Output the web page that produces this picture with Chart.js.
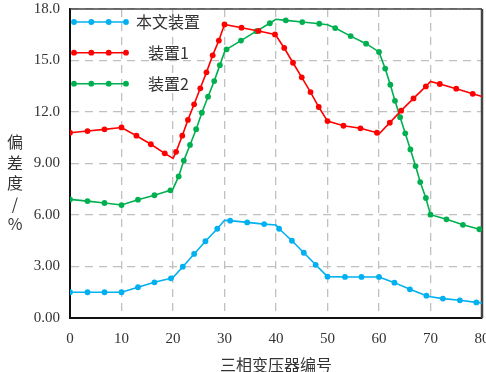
<!DOCTYPE html>
<html>
<head>
<meta charset="utf-8">
<script src="https://cdn.jsdelivr.net/npm/chart.js@4"></script>
<style>
  body { margin: 0; background: #fff; }
  #wrap { position: relative; width: 486px; height: 372px; overflow: hidden; }
  #ytitle {
    position: absolute; left: 5px; top: 131px; width: 20px;
    font: 16px "Noto Sans CJK SC"; line-height: 20.5px; text-align: center; color: #333;
  }
  #xtitle {
    position: absolute; left: 70px; top: 355px; width: 412px;
    font: 16px "Noto Sans CJK SC"; line-height: 18px; text-align: center; color: #333;
  }
</style>
</head>
<body>
<div id="wrap">
  <canvas id="chart" width="486" height="372"></canvas>
  <div id="ytitle">偏<br>差<br>度<br>/<br>%</div>
  <div id="xtitle">三相变压器编号</div>
</div>
<script>
const seriesNames = ["本文装置", "装置1", "装置2"];
const yTickLabels = ["0.00", "3.00", "6.00", "9.00", "12.0", "15.0", "18.0"];

// marker points
const blueX = [0, 3.4, 6.7, 10, 13.2, 16.4, 19.6, 21.9, 24.1, 26.3, 28.6, 31.1, 34.4, 37.7, 40.6, 43.1, 45.4, 47.7, 50, 53.4, 56.6, 60, 63, 66, 69.2, 72.4, 75.7, 78.9];
const blueY = [1.5, 1.5, 1.5, 1.5, 1.79, 2.08, 2.31, 2.99, 3.73, 4.47, 5.2, 5.67, 5.57, 5.47, 5.2, 4.5, 3.8, 3.1, 2.41, 2.39, 2.39, 2.39, 2.06, 1.67, 1.3, 1.13, 1.03, 0.91];
const redX = [0, 3.4, 6.7, 10, 12.9, 15.7, 18.4, 20.6, 21.8, 22.9, 24.1, 25.3, 26.5, 27.7, 28.9, 30, 33.3, 36.6, 39.8, 41.6, 43.3, 45, 46.7, 48.3, 50, 53.1, 56.4, 59.6, 62.1, 64.3, 66.7, 69.1, 71.8, 75, 78.2];
const redY = [10.79, 10.89, 10.99, 11.1, 10.62, 10.12, 9.59, 9.68, 10.62, 11.54, 12.45, 13.38, 14.31, 15.3, 16.16, 17.1, 16.91, 16.72, 16.52, 15.73, 14.87, 14.02, 13.16, 12.29, 11.47, 11.2, 11.05, 10.79, 11.38, 12.08, 12.79, 13.49, 13.63, 13.36, 13.06];
const greenX = [0, 3.4, 6.7, 10, 13.2, 16.4, 19.5, 21.1, 22.1, 23.3, 24.5, 25.6, 26.8, 28, 29.1, 30.4, 33.2, 36.2, 38.8, 41.9, 45.1, 48.4, 51.5, 54.5, 57.5, 60, 61.2, 62.2, 63.1, 64.1, 65.1, 66.1, 67.1, 68, 69.1, 70, 73.1, 76.3, 79.5];
const greenY = [6.91, 6.81, 6.7, 6.58, 6.89, 7.15, 7.44, 8.25, 9.17, 10.08, 11.0, 11.96, 12.89, 13.8, 14.73, 15.65, 16.16, 16.71, 17.17, 17.34, 17.24, 17.14, 16.89, 16.42, 15.98, 15.5, 14.53, 13.59, 12.65, 11.7, 10.76, 9.82, 8.85, 7.92, 6.99, 6.02, 5.75, 5.43, 5.17];

// corners of the polylines that carry no marker
const blueKnotX = [20, 30, 40, 70, 80];
const blueKnotY = [2.36, 5.69, 5.42, 1.24, 0.88];
const redKnotX = [20, 40, 60, 70, 80];
const redKnotY = [9.3, 16.46, 10.72, 13.78, 12.9];
const greenKnotX = [20, 30, 40, 50, 80];
const greenKnotY = [7.52, 15.5, 17.4, 17.08, 5.12];

const colors = ["#00b0f0", "#ff0000", "#00b050"];

function buildPoints(mx, my, kx, ky) {
    let pts = mx.map((x, i) => ({x: x, y: my[i], mark: true}));
    kx.forEach((x, i) => {
        if (!mx.includes(x)) pts.push({x: x, y: ky[i], mark: false});
    });
    pts.sort((a, b) => a.x - b.x);
    return pts;
}

function makeSet(i, pts) {
    return {
        label: seriesNames[i],
        data: pts,
        borderColor: colors[i],
        backgroundColor: colors[i],
        borderWidth: 1.6,
        pointRadius: ctx => (ctx.raw && ctx.raw.mark) ? 2.9 : 0,
        pointBorderWidth: 0,
        tension: 0
    };
}

// vertical legend with 4 markers per line, inside the plot
const legendPlugin = {
    id: 'sideLegend',
    afterDatasetsDraw(chart) {
        const c = chart.ctx;
        const rows = [22, 52.7, 83.7];
        const textX = [136, 148, 148];
        c.save();
        for (let i = 0; i < seriesNames.length; i++) {
            c.strokeStyle = colors[i];
            c.fillStyle = colors[i];
            c.lineWidth = 1.6;
            c.beginPath();
            c.moveTo(74, rows[i]);
            c.lineTo(126, rows[i]);
            c.stroke();
            [74, 91.3, 108.7, 126].forEach(px => {
                c.beginPath();
                c.arc(px, rows[i], 2.9, 0, Math.PI * 2);
                c.fill();
            });
            c.fillStyle = "#333";
            c.font = '16px "Noto Sans CJK SC"';
            c.textBaseline = "middle";
            c.fillText(seriesNames[i], textX[i], rows[i]);
        }
        c.restore();
    }
};

// top and right edges of the frame
const framePlugin = {
    id: 'frame',
    beforeDatasetsDraw(chart) {
        const a = chart.chartArea;
        const c = chart.ctx;
        c.save();
        c.strokeStyle = "#444";
        c.lineWidth = 1.5;
        c.beginPath();
        c.moveTo(a.left, a.top);
        c.lineTo(a.right, a.top);
        c.stroke();
        c.lineWidth = 2.5;
        c.beginPath();
        c.moveTo(a.right, a.top);
        c.lineTo(a.right, a.bottom);
        c.stroke();
        c.restore();
    }
};

const tickFont = {family: '"Liberation Serif"', size: 15};

new Chart(document.getElementById('chart'), {
    type: 'line',
    data: {
        datasets: [
            makeSet(0, buildPoints(blueX, blueY, blueKnotX, blueKnotY)),
            makeSet(1, buildPoints(redX, redY, redKnotX, redKnotY)),
            makeSet(2, buildPoints(greenX, greenY, greenKnotX, greenKnotY))
        ]
    },
    options: {
        responsive: false,
        animation: false,
        devicePixelRatio: 1,
        layout: {padding: {top: 9, right: 4, left: 0, bottom: 0}},
        plugins: {
            legend: {display: false},
            tooltip: {enabled: false}
        },
        scales: {
            x: {
                type: 'linear',
                min: 0,
                max: 80,
                ticks: {stepSize: 10, font: tickFont, color: "#333", padding: 12},
                grid: {color: "#c0c0c0", lineWidth: 1.3, drawTicks: false},
                border: {color: "#111", width: 2, dash: [8, 6]},
                afterFit(scale) {
                    scale.height = 54;
                    scale.paddingLeft = 0;
                    scale.paddingRight = 0;
                }
            },
            y: {
                min: 0,
                max: 18,
                ticks: {
                    stepSize: 3,
                    font: tickFont,
                    color: "#333",
                    padding: 10,
                    callback: (v) => yTickLabels[Math.round(v / 3)]
                },
                grid: {color: "#c0c0c0", lineWidth: 1.3, drawTicks: false},
                border: {color: "#111", width: 2, dash: [8, 6]},
                afterFit(scale) {
                    scale.width = 70;
                    scale.paddingTop = 0;
                    scale.paddingBottom = 0;
                }
            }
        }
    },
    plugins: [legendPlugin, framePlugin]
});
</script>
</body>
</html>
